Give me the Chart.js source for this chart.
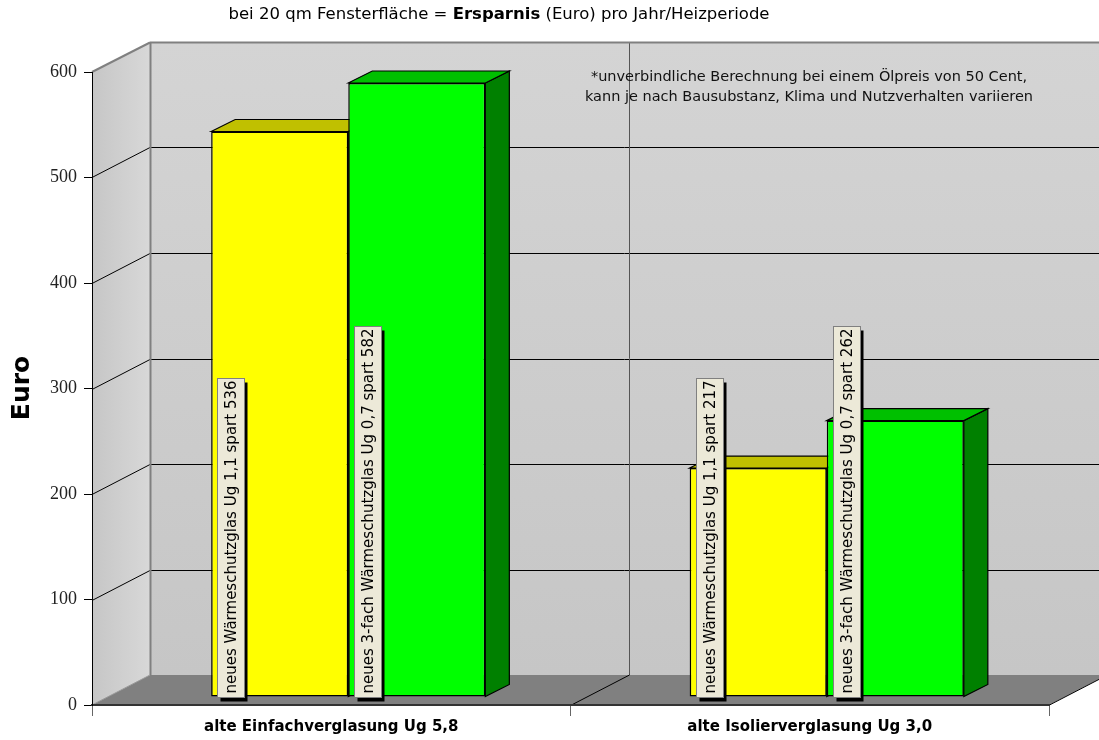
<!DOCTYPE html>
<html>
<head>
<meta charset="utf-8">
<title>Ersparnis pro Jahr</title>
<script src="https://cdn.jsdelivr.net/npm/chart.js@4.4.0/dist/chart.umd.min.js"></script>
<style>
  html, body { margin: 0; padding: 0; background: #fff; }
</style>
</head>
<body>
<canvas id="ersparnisChart" width="1099" height="740"></canvas>
<script>
// Daten aus der Grafik
const kategorien = ['alte Einfachverglasung Ug 5,8', 'alte Isolierverglasung Ug 3,0'];
const serienNamen = ['neues Wärmeschutzglas Ug 1,1', 'neues 3-fach Wärmeschutzglas Ug 0,7'];
const ersparnisWaermeschutz = [536, 217];
const ersparnisDreifach = [582, 262];
const yMin = 0;
const yMax = 600;
const yStep = 100;

const titelTeile = [
  { text: 'bei 20 qm Fensterfläche = ', bold: false },
  { text: 'Ersparnis', bold: true },
  { text: ' (Euro) pro Jahr/Heizperiode', bold: false }
];
const hinweisZeilen = [
  '*unverbindliche Berechnung bei einem Ölpreis von 50 Cent,',
  'kann je nach Bausubstanz, Klima und Nutzverhalten variieren'
];

// 3D-Tiefe der Wände und Balken
const WAND = { dx: 58, dy: -30 };
const BALKEN_OFF = { dx: 17, dy: -8 };
const BALKEN_TIEFE = { dx: 24, dy: -12 };

const farben = [
  { front: '#ffff00', top: '#c0c000', side: '#808000' },
  { front: '#00ff00', top: '#00c000', side: '#008000' }
];

const SCHRIFT = '"DejaVu Sans", Verdana, sans-serif';

function poly(ctx, pts, fill, stroke, lw) {
  ctx.beginPath();
  ctx.moveTo(pts[0][0], pts[0][1]);
  for (let i = 1; i < pts.length; i++) ctx.lineTo(pts[i][0], pts[i][1]);
  ctx.closePath();
  if (fill) { ctx.fillStyle = fill; ctx.fill(); }
  if (stroke) { ctx.strokeStyle = stroke; ctx.lineWidth = lw || 1; ctx.stroke(); }
}

function line(ctx, x1, y1, x2, y2, color, lw) {
  ctx.beginPath();
  ctx.moveTo(x1, y1);
  ctx.lineTo(x2, y2);
  ctx.strokeStyle = color;
  ctx.lineWidth = lw || 1;
  ctx.stroke();
}

// Hintergrund: Rückwand, Seitenwand, Boden, Gitterlinien
const wandPlugin = {
  id: 'waende',
  beforeDraw(chart) {
    const { ctx, chartArea: a, scales } = chart;
    const W = chart.width;
    ctx.save();
    ctx.fillStyle = '#fff';
    ctx.fillRect(0, 0, W, chart.height);

    // Rückwand
    const gBack = ctx.createLinearGradient(0, a.top + WAND.dy, 0, a.bottom + WAND.dy);
    gBack.addColorStop(0, '#d4d4d4');
    gBack.addColorStop(1, '#c6c6c6');
    ctx.fillStyle = gBack;
    ctx.fillRect(a.left + WAND.dx, a.top + WAND.dy, W, a.bottom - a.top);

    // Seitenwand
    const gSide = ctx.createLinearGradient(a.left, 0, a.left + WAND.dx, 0);
    gSide.addColorStop(0, '#c6c6c6');
    gSide.addColorStop(1, '#d8d8d8');
    poly(ctx, [[a.left, a.top], [a.left + WAND.dx, a.top + WAND.dy],
               [a.left + WAND.dx, a.bottom + WAND.dy], [a.left, a.bottom]], gSide);

    // Boden
    poly(ctx, [[a.left, a.bottom], [a.left + WAND.dx, a.bottom + WAND.dy],
               [a.right + WAND.dx, a.bottom + WAND.dy], [a.right, a.bottom]], '#808080');

    // horizontale Gitterlinien
    const y = scales.y;
    for (let v = yMin + yStep; v < yMax; v += yStep) {
      const py = Math.round(y.getPixelForValue(v)) + 0.5;
      line(ctx, a.left, py, a.left + WAND.dx, py + WAND.dy, '#000', 1);
      line(ctx, a.left + WAND.dx, py + WAND.dy, W, py + WAND.dy, '#000', 1);
    }

    // Kategoriegrenzen
    const x = scales.x;
    for (let i = 1; i <= kategorien.length; i++) {
      const px = Math.round(x.getPixelForValue(i - 0.5)) + 0.5;
      line(ctx, px + WAND.dx, a.top + WAND.dy, px + WAND.dx, a.bottom + WAND.dy, '#555', 1);
      line(ctx, px, a.bottom, px + WAND.dx, a.bottom + WAND.dy, '#000', 1);
    }

    // Kanten
    const top = a.top + WAND.dy + 0.5;
    line(ctx, a.left, a.top, a.left + WAND.dx, top, '#808080', 2);
    line(ctx, a.left + WAND.dx, top, W, top, '#808080', 2);
    line(ctx, a.left + WAND.dx + 0.5, top, a.left + WAND.dx + 0.5, a.bottom + WAND.dy, '#808080', 2);
    line(ctx, a.left, a.bottom, a.left + WAND.dx, a.bottom + WAND.dy, '#999', 1);
    ctx.restore();
  }
};

// 3D-Balken: Ober- und Seitenflächen, Front verschoben
const balkenPlugin = {
  id: 'balken3d',
  beforeDatasetsDraw(chart) {
    const ctx = chart.ctx;
    ctx.save();
    chart.data.datasets.forEach((ds, di) => {
      const meta = chart.getDatasetMeta(di);
      meta.data.forEach(bar => {
        const L = bar.x - bar.width / 2 + BALKEN_OFF.dx;
        const R = bar.x + bar.width / 2 + BALKEN_OFF.dx;
        const T = bar.y + BALKEN_OFF.dy;
        const B = bar.base + BALKEN_OFF.dy;
        const d = BALKEN_TIEFE;
        poly(ctx, [[R, T], [R + d.dx, T + d.dy], [R + d.dx, B + d.dy], [R, B]], farben[di].side, '#000', 1.2);
        poly(ctx, [[L, T], [L + d.dx, T + d.dy], [R + d.dx, T + d.dy], [R, T]], farben[di].top, '#000', 1.2);
      });
    });
    ctx.restore();
    ctx.save();
    ctx.translate(BALKEN_OFF.dx, BALKEN_OFF.dy);
  },
  afterDatasetsDraw(chart) {
    const ctx = chart.ctx;
    ctx.restore();
    // Beschriftungsboxen
    ctx.save();
    ctx.font = '15px ' + SCHRIFT;
    chart.data.datasets.forEach((ds, di) => {
      const meta = chart.getDatasetMeta(di);
      meta.data.forEach((bar, i) => {
        const text = serienNamen[di] + ' spart ' + ds.data[i];
        const tw = ctx.measureText(text).width;
        const L = bar.x - bar.width / 2 + BALKEN_OFF.dx;
        const B = bar.base + BALKEN_OFF.dy;
        const bx = Math.round(L + 6) + 0.5;
        const bw = 27;
        const bh = Math.round(tw + 6);
        const by = Math.round(B) - bh + 0.5;
        ctx.fillStyle = '#000';
        ctx.fillRect(bx + 3, by + 4, bw, bh);
        ctx.fillStyle = '#ece9d8';
        ctx.fillRect(bx, by, bw, bh);
        ctx.strokeStyle = '#808080';
        ctx.lineWidth = 1;
        ctx.strokeRect(bx, by, bw, bh);
        ctx.save();
        ctx.translate(bx + bw / 2, by + bh - 4);
        ctx.rotate(-Math.PI / 2);
        ctx.fillStyle = '#000';
        ctx.textAlign = 'left';
        ctx.textBaseline = 'middle';
        ctx.fillText(text, 0, 1);
        ctx.restore();
      });
    });
    ctx.restore();
  },
  afterDraw(chart) {
    const ctx = chart.ctx;
    ctx.save();
    // Titel
    ctx.textBaseline = 'middle';
    ctx.fillStyle = '#000';
    const fonts = titelTeile.map(t => (t.bold ? 'bold ' : '') + '16.5px ' + SCHRIFT);
    let total = 0;
    const widths = titelTeile.map((t, i) => { ctx.font = fonts[i]; const w = ctx.measureText(t.text).width; total += w; return w; });
    let tx = 499 - total / 2;
    titelTeile.forEach((t, i) => {
      ctx.font = fonts[i];
      ctx.textAlign = 'left';
      ctx.fillText(t.text, tx, 15);
      tx += widths[i];
    });
    // Hinweis
    ctx.font = '14.5px ' + SCHRIFT;
    ctx.textAlign = 'center';
    ctx.fillStyle = '#111';
    hinweisZeilen.forEach((z, i) => ctx.fillText(z, 809, 77 + i * 20));
    // y-Achsentitel
    ctx.translate(22, 388);
    ctx.rotate(-Math.PI / 2);
    ctx.font = 'bold 25px ' + SCHRIFT;
    ctx.fillStyle = '#000';
    ctx.fillText('Euro', 0, 0);
    ctx.restore();
  }
};

const ctx = document.getElementById('ersparnisChart').getContext('2d');
new Chart(ctx, {
  type: 'bar',
  data: {
    labels: kategorien,
    datasets: [
      {
        label: serienNamen[0],
        data: ersparnisWaermeschutz,
        backgroundColor: farben[0].front,
        borderColor: '#000',
        borderWidth: 1.5,
        borderSkipped: false,
        categoryPercentage: 0.573,
        barPercentage: 1,
        clip: false
      },
      {
        label: serienNamen[1],
        data: ersparnisDreifach,
        backgroundColor: farben[1].front,
        borderColor: '#000',
        borderWidth: 1.5,
        borderSkipped: false,
        categoryPercentage: 0.573,
        barPercentage: 1,
        clip: false
      }
    ]
  },
  options: {
    responsive: false,
    animation: false,
    layout: { padding: { top: 72, right: 50, left: 0, bottom: 0 } },
    plugins: {
      legend: { display: false },
      tooltip: { enabled: false },
      title: { display: false }
    },
    scales: {
      x: {
        grid: { display: true, drawOnChartArea: false, tickLength: 11, color: '#666', offset: true },
        border: { display: true, color: '#333', width: 2 },
        ticks: { color: '#000', padding: 2, font: { family: 'DejaVu Sans', size: 15, weight: 'bold' } },
        afterFit: s => { s.height = 35; }
      },
      y: {
        min: yMin,
        max: yMax,
        grid: { display: true, drawOnChartArea: false, tickLength: 8, color: '#000' },
        border: { display: true, color: '#000', width: 1 },
        ticks: { stepSize: yStep, color: '#222', padding: 7, font: { family: 'Liberation Serif', size: 18 } },
        afterFit: s => { s.width = 92; }
      }
    }
  },
  plugins: [wandPlugin, balkenPlugin]
});
</script>
</body>
</html>
